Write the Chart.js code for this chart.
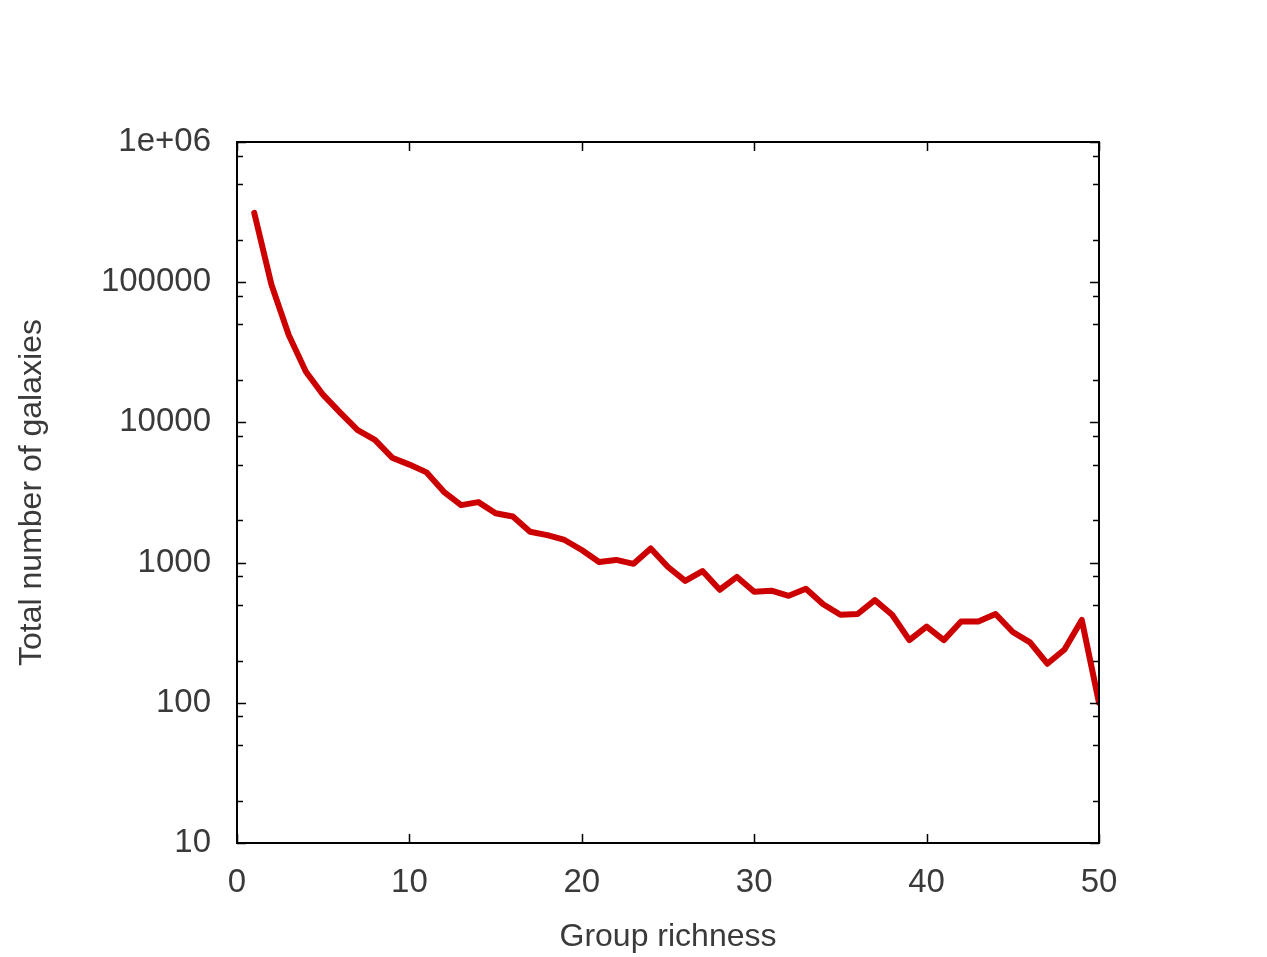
<!DOCTYPE html>
<html>
<head>
<meta charset="utf-8">
<script src="https://cdn.jsdelivr.net/npm/chart.js@4"></script>
<style>
  html, body { margin: 0; padding: 0; background: #ffffff; }
  #wrap { width: 1267px; height: 957px; position: relative; }
</style>
</head>
<body>
<div id="wrap"><canvas id="c" width="1267" height="957"></canvas></div>
<script>
// ---- data ----
const richness = [1,2,3,4,5,6,7,8,9,10,11,12,13,14,15,16,17,18,19,20,21,22,23,24,25,26,27,28,29,30,31,32,33,34,35,36,37,38,39,40,41,42,43,44,45,46,47,48,49,50];
const galaxies = [312000,96000,42000,23000,15700,11700,8800,7500,5600,5000,4400,3200,2570,2700,2250,2130,1660,1570,1450,1230,1010,1045,980,1260,930,740,870,640,790,620,630,580,650,505,425,430,540,425,280,350,280,380,380,430,320,270,190,240,390,100];
const xTickValues = [0,10,20,30,40,50];
const yMajorValues = [10,100,1000,10000,100000,1000000];
const yMinorFactors = [2,5,8];
const yTickLabels = {10:'10',100:'100',1000:'1000',10000:'10000',100000:'100000',1000000:'1e+06'};
const xTitle = 'Group richness';
const yTitle = 'Total number of galaxies';

const FONT = '"Liberation Sans", Arial, sans-serif';
const TEXT = '#3a3a3a';

const L = 237, R = 1099, T = 142, B = 843, W = 1267, H = 957;

const boxTicks = {
  id: 'boxTicks',
  afterDatasetsDraw(chart) {
    const ctx = chart.ctx;
    const xs = chart.scales.x, ys = chart.scales.y;
    const a = chart.chartArea;
    ctx.save();
    ctx.strokeStyle = '#000';
    ctx.lineWidth = 1.5;
    ctx.beginPath();
    xTickValues.forEach(v => {
      const px = Math.round(xs.getPixelForValue(v)) + 0.5;
      ctx.moveTo(px, a.bottom); ctx.lineTo(px, a.bottom - 9);
      ctx.moveTo(px, a.top); ctx.lineTo(px, a.top + 9);
    });
    yMajorValues.forEach(v => {
      const py = Math.round(ys.getPixelForValue(v)) + 0.5;
      ctx.moveTo(a.left, py); ctx.lineTo(a.left + 9, py);
      ctx.moveTo(a.right, py); ctx.lineTo(a.right - 9, py);
      if (v < 1000000) {
        yMinorFactors.forEach(f => {
          const my = Math.round(ys.getPixelForValue(v * f)) + 0.5;
          ctx.moveTo(a.left, my); ctx.lineTo(a.left + 6, my);
          ctx.moveTo(a.right, my); ctx.lineTo(a.right - 6, my);
        });
      }
    });
    ctx.stroke();
    ctx.lineWidth = 2;
    ctx.strokeRect(a.left, a.top, a.right - a.left, a.bottom - a.top);
    ctx.restore();
  }
};

new Chart(document.getElementById('c'), {
  type: 'line',
  data: {
    datasets: [{
      data: richness.map((x, i) => ({x: x, y: galaxies[i]})),
      borderColor: '#cc0000',
      borderWidth: 6,
      pointRadius: 0,
      tension: 0,
      fill: false,
      borderJoinStyle: 'round',
      borderCapStyle: 'round'
    }]
  },
  options: {
    responsive: false,
    animation: false,
    devicePixelRatio: 1,
    layout: { padding: { left: 0, top: T, right: W - R, bottom: 0 } },
    plugins: { legend: { display: false }, tooltip: { enabled: false } },
    scales: {
      x: {
        type: 'linear',
        min: 0, max: 50,
        grid: { display: false, drawTicks: false },
        border: { display: false },
        afterBuildTicks: s => { s.ticks = xTickValues.map(v => ({value: v})); },
        afterFit: s => { s.height = H - B; },
        ticks: { font: { family: FONT, size: 33 }, color: TEXT, padding: 20, maxRotation: 0, autoSkip: false },
        title: { display: true, text: xTitle, font: { family: FONT, size: 32 }, color: TEXT, padding: { top: 0, bottom: 1 } }
      },
      y: {
        type: 'logarithmic',
        min: 10, max: 1000000,
        grid: { display: false, drawTicks: false },
        border: { display: false },
        afterBuildTicks: s => { s.ticks = yMajorValues.map(v => ({value: v})); },
        afterFit: s => { s.width = L; },
        ticks: {
          font: { family: FONT, size: 33 }, color: TEXT, padding: 26, autoSkip: false,
          callback: v => yTickLabels[v] !== undefined ? yTickLabels[v] : ''
        },
        title: { display: true, text: yTitle, font: { family: FONT, size: 32 }, color: TEXT, padding: { top: 13, bottom: 0 } }
      }
    }
  },
  plugins: [boxTicks]
});
</script>
</body>
</html>
